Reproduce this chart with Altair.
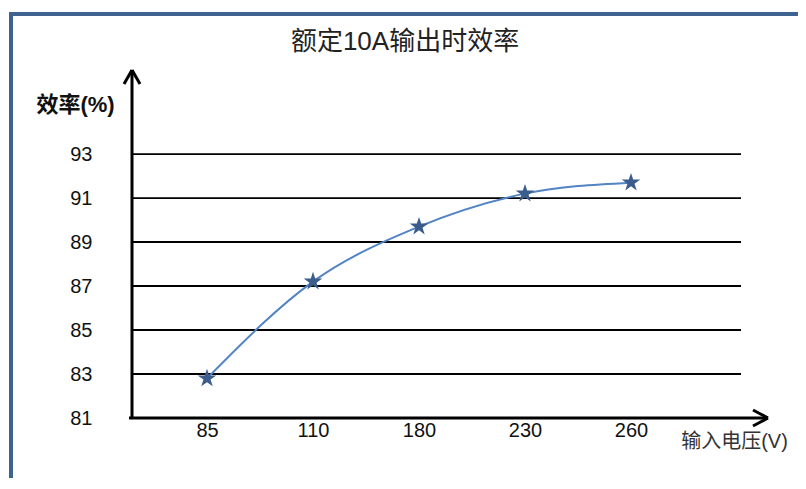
import altair as alt
import pandas as pd

# ---- data ----
voltages = ["85", "110", "180", "230", "260"]
efficiency = [82.8, 87.2, 89.7, 91.2, 91.7]
y_ticks = [81, 83, 85, 87, 89, 91, 93]
grid_values = [83, 85, 87, 89, 91, 93]

title_text = "额定10A输出时效率"
y_title = "效率(%)"
x_title = "输入电压(V)"

df = pd.DataFrame({"v": voltages, "eff": efficiency})
grid_df = pd.DataFrame({"eff": grid_values})

W, H = 636, 348
FONT = "Liberation Sans, Arial, Noto Sans CJK SC"
FRAME = "#3f6390"
YSCALE = alt.Scale(domain=[81, 96.82], nice=False, zero=False)
STAR = ("M0,-1L0.2245,-0.309L0.951,-0.309L0.363,0.118L0.588,0.809L0,0.382"
        "L-0.588,0.809L-0.363,0.118L-0.951,-0.309L-0.2245,-0.309Z")

x_axis = alt.Axis(
    title=x_title,
    orient="bottom",
    labelAngle=0,
    labelFontSize=20,
    labelFont=FONT,
    labelColor="#111111",
    labelPadding=12,
    labelBaseline="middle",
    ticks=False,
    domain=False,
    grid=False,
    titleFont=FONT,
    titleFontSize=20,
    titleFontWeight="normal",
    titleColor="#333333",
    titleX=602,
    titleY=23,
    titleAlign="center",
    titleBaseline="middle",
)
y_axis = alt.Axis(
    title=y_title,
    orient="left",
    values=y_ticks,
    labelFontSize=20,
    labelFont=FONT,
    labelColor="#111111",
    labelAlign="right",
    labelBaseline="middle",
    labelPadding=40,
    ticks=False,
    domain=False,
    grid=False,
    titleAngle=0,
    titleFont=FONT,
    titleFontSize=22,
    titleFontWeight="bold",
    titleColor="#111111",
    titleX=-57,
    titleY=34,
    titleAlign="center",
    titleBaseline="middle",
)

x_enc = alt.X(
    "v:O",
    sort=voltages,
    scale=alt.Scale(type="point", range=[75, 499], padding=0),
    axis=x_axis,
)
y_enc = alt.Y("eff:Q", scale=YSCALE, axis=y_axis)

grid = alt.Chart(grid_df).mark_rule(color="black", strokeWidth=1.8).encode(
    y=alt.Y("eff:Q", scale=YSCALE, axis=y_axis),
    x=alt.value(0),
    x2=alt.value(609),
)

base = alt.Chart(df).encode(x=x_enc, y=y_enc)
line = base.mark_line(interpolate="monotone", color="#5284c4", strokeWidth=2)
stars = base.mark_point(shape=STAR, filled=True, color="#3a5d8c", size=380, opacity=1)


def seg(x1, y1, x2, y2, color="black", w=3):
    return alt.Chart(alt.Data(values=[{"k": 0}])).mark_rule(
        color=color, strokeWidth=w
    ).encode(x=alt.value(x1), y=alt.value(y1), x2=alt.value(x2), y2=alt.value(y2))


decor = [
    # y axis + arrow
    seg(0, 0, 0, H + 1),
    seg(0, 0, -8, 14),
    seg(0, 0, 8, 14),
    # x axis + arrow
    seg(-3, H, W, H),
    seg(W, H, W - 15, H - 8),
    seg(W, H, W - 15, H + 8),
    # frame
    seg(-123, -56, 680, -56, FRAME, 4),
    seg(-121, -58, -121, 420, FRAME, 4),
]

title = alt.Chart(alt.Data(values=[{"k": 0}])).mark_text(
    font=FONT, fontSize=26, color="#222222", baseline="middle", align="center"
).encode(x=alt.value(273), y=alt.value(-28), text=alt.value(title_text))

chart = alt.layer(grid, line, stars, *decor, title).properties(
    width=W,
    height=H,
    background="white",
    autosize=alt.AutoSizeParams(type="none"),
    padding={"left": 124, "top": 62, "right": 30, "bottom": 60},
).configure_view(strokeWidth=0)

chart.save("out.html", embed_options={"renderer": "svg", "actions": False})
